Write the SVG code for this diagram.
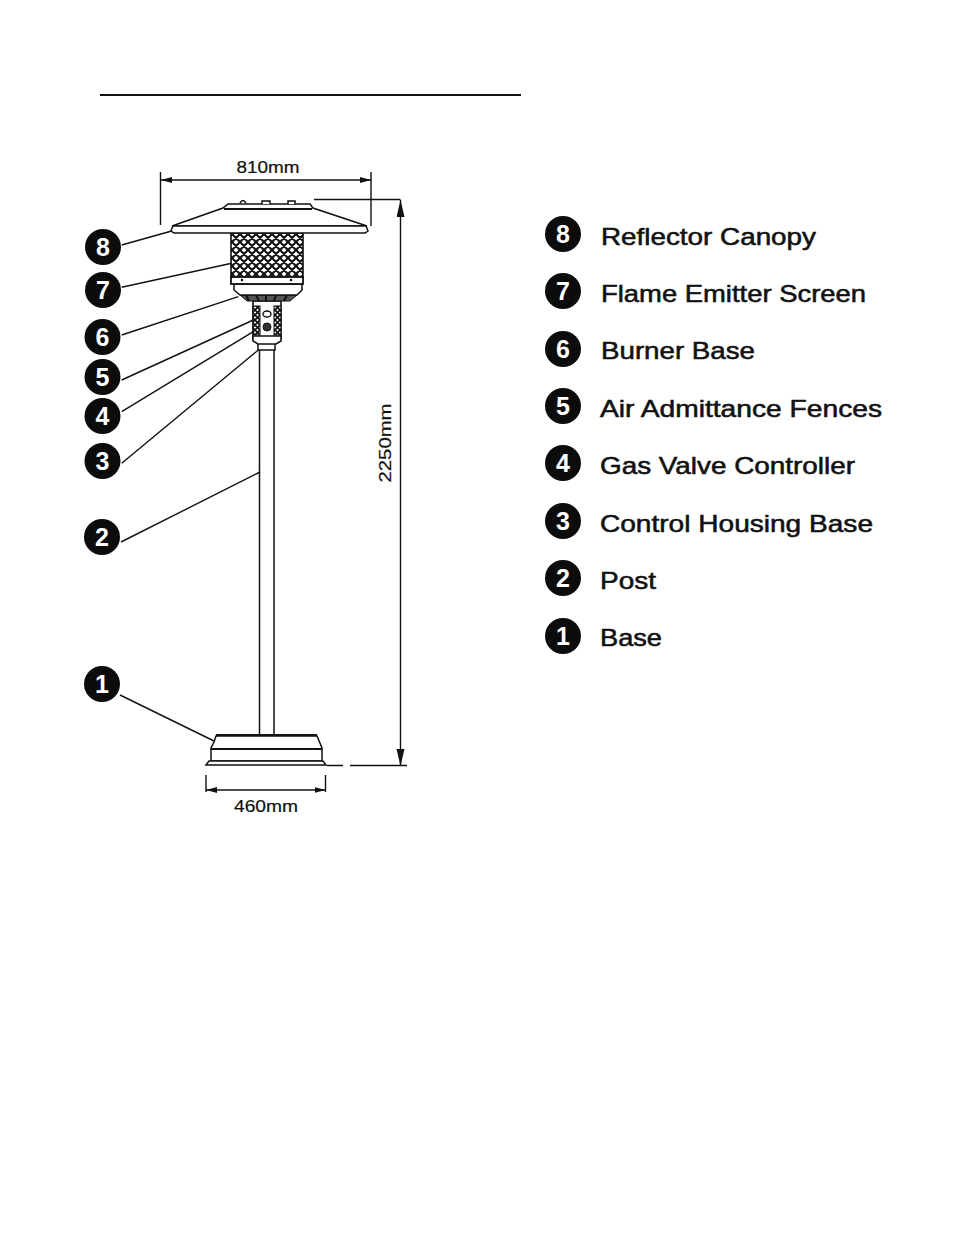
<svg xmlns="http://www.w3.org/2000/svg" width="954" height="1235" viewBox="0 0 954 1235">
<style>
text{font-family:"Liberation Sans",Arial,sans-serif;fill:#111}
.num{font-weight:bold;font-size:25px;fill:#fff;text-anchor:middle}
.lab{font-size:24px;stroke:#111;stroke-width:.55}
.dim{font-size:17px;stroke:#111;stroke-width:.2}
.ln{fill:none;stroke:#111;stroke-width:1.4}
.hv{fill:none;stroke:#111;stroke-width:2}
.wf{fill:#fff;stroke:#111;stroke-width:1.5}
.bub{fill:#0c0c0c}
</style>
<defs>
<pattern id="mesh" width="8" height="8" patternUnits="userSpaceOnUse" patternTransform="translate(232 234)">
<rect width="8" height="8" fill="#fff"/>
<path d="M-1 -1L9 9M-1 7L1 9M7 -1L9 1M9 -1L-1 9M1 -1L-1 1M9 7L7 9" stroke="#111" stroke-width="2.1"/>
</pattern>
<pattern id="mesh2" width="5" height="5" patternUnits="userSpaceOnUse">
<rect width="5" height="5" fill="#fff"/>
<path d="M0 0L5 5M5 0L0 5" stroke="#111" stroke-width="1.7"/>
</pattern>
<marker id="ah" markerWidth="12" markerHeight="8" refX="11" refY="3" orient="auto-start-reverse" markerUnits="userSpaceOnUse"><path d="M0 0L11 3L0 6Z" fill="#111"/></marker>
<marker id="av" markerWidth="18" markerHeight="10" refX="17" refY="4" orient="auto-start-reverse" markerUnits="userSpaceOnUse"><path d="M0 0L17 4L0 8Z" fill="#111"/></marker>
</defs>
<rect width="954" height="1235" fill="#fff"/>
<path id="title-rule" d="M100 95H521" stroke="#111" stroke-width="2.2"/>

<g id="heater">
<path class="wf" d="M259.5 350V735M274 350V735"/>
<path class="wf" d="M216 736L317 736L322 748V761H211V748L214 742Z"/>
<path class="hv" d="M216 735H317M211 749H322"/>
<path class="wf" stroke-width="2" d="M206 765L209 761H323L326 765Z"/>
<path class="wf" d="M258 342H275V350H258Z"/>
<rect x="253" y="301" width="28" height="38" fill="#fff" stroke="#111" stroke-width="1.6"/>
<rect x="253" y="306" width="7" height="29" fill="url(#mesh2)" stroke="#111"/>
<rect x="274" y="306" width="7" height="29" fill="url(#mesh2)" stroke="#111"/>
<ellipse cx="267" cy="314" rx="4" ry="3" fill="#fff" stroke="#111" stroke-width="1.4"/>
<circle cx="267" cy="327" r="4" fill="#333" stroke="#111"/>
<path class="wf" d="M253 336H281V341L276 344H258L253 341Z"/>
<path d="M240 295H297L290 301H247Z" fill="#555" stroke="#111"/>
<path class="hv" stroke-width="1.6" d="M246 295L249 301M256 295L259 301M266 295V301M276 295L274 301M287 295L284 301"/>
<path class="wf" d="M234 284H302V290L297 295H240L234 290Z"/>
<rect x="231" y="233" width="72" height="44" fill="url(#mesh)" stroke="#111" stroke-width="1.6"/>
<rect x="231" y="277" width="72" height="7" fill="#fff" stroke="#111" stroke-width="1.8"/>
<circle cx="242" cy="280" r="1.3" fill="#111"/><circle cx="291" cy="280" r="1.3" fill="#111"/>
<path class="wf" d="M172 226L223 208L228 204H310L313 208L367 226Z"/>
<path class="wf" d="M173 226H366L368 231L365 233H174L171 231Z"/>
<path class="hv" stroke-width="1.6" d="M224 209H312"/>
<path class="wf" d="M240 203Q243 198 246 203M262 204V201H270V204M288 204V201H295V204"/>
</g>

<g id="connectors">
<path class="ln" d="M121.7 245L171.7 231M121.7 287.3L231.7 263.3M121.7 335L238.3 296.7M121.7 380L253.3 320M121.7 411.7L253.3 331.7M121.7 463.3L258.3 350M121 542L260 472M120 695L214 741"/>
</g>

<g id="dimensions">
<path class="ln" d="M160.5 172V225M371 172V226M206 775V792M325.5 775V792"/>
<path class="ln" d="M161 180H371" marker-start="url(#ah)" marker-end="url(#ah)"/>
<path class="ln" d="M206 790H325.5" marker-start="url(#ah)" marker-end="url(#ah)"/>
<path class="ln" d="M400.5 200V766" marker-start="url(#av)" marker-end="url(#av)"/>
<path class="ln" d="M314 199.5H400.5"/>
<path class="ln" d="M327 765.5H343M350 765.5H407"/>
<text class="dim" x="268" y="173" text-anchor="middle" textLength="63" lengthAdjust="spacingAndGlyphs">810mm</text>
<text class="dim" x="266" y="812" text-anchor="middle" textLength="64" lengthAdjust="spacingAndGlyphs">460mm</text>
<text class="dim" transform="translate(391 443) rotate(-90)" text-anchor="middle" textLength="79" lengthAdjust="spacingAndGlyphs">2250mm</text>
</g>

<g id="callout-8"><circle class="bub" cx="103" cy="247" r="18"/><text class="num" x="103" y="256">8</text></g>
<g id="callout-7"><circle class="bub" cx="103" cy="290" r="18"/><text class="num" x="103" y="299">7</text></g>
<g id="callout-6"><circle class="bub" cx="102.5" cy="337" r="18"/><text class="num" x="102.5" y="346">6</text></g>
<g id="callout-5"><circle class="bub" cx="102.5" cy="377" r="18"/><text class="num" x="102.5" y="386">5</text></g>
<g id="callout-4"><circle class="bub" cx="102.5" cy="416" r="18"/><text class="num" x="102.5" y="425">4</text></g>
<g id="callout-3"><circle class="bub" cx="102.5" cy="461" r="18"/><text class="num" x="102.5" y="470">3</text></g>
<g id="callout-2"><circle class="bub" cx="102" cy="537" r="18"/><text class="num" x="102" y="546">2</text></g>
<g id="callout-1"><circle class="bub" cx="102" cy="684" r="18"/><text class="num" x="102" y="693">1</text></g>

<g id="legend-8"><circle class="bub" cx="563" cy="234" r="18"/><text class="num" x="563" y="243">8</text><text class="lab" x="601" y="245" textLength="215" lengthAdjust="spacingAndGlyphs">Reflector Canopy</text></g>
<g id="legend-7"><circle class="bub" cx="563" cy="291" r="18"/><text class="num" x="563" y="300">7</text><text class="lab" x="601" y="302" textLength="265" lengthAdjust="spacingAndGlyphs">Flame Emitter Screen</text></g>
<g id="legend-6"><circle class="bub" cx="563" cy="349" r="18"/><text class="num" x="563" y="358">6</text><text class="lab" x="601" y="359" textLength="154" lengthAdjust="spacingAndGlyphs">Burner Base</text></g>
<g id="legend-5"><circle class="bub" cx="563" cy="406" r="18"/><text class="num" x="563" y="415">5</text><text class="lab" x="600" y="417" textLength="282" lengthAdjust="spacingAndGlyphs">Air Admittance Fences</text></g>
<g id="legend-4"><circle class="bub" cx="563" cy="463" r="18"/><text class="num" x="563" y="472">4</text><text class="lab" x="600" y="474" textLength="255" lengthAdjust="spacingAndGlyphs">Gas Valve Controller</text></g>
<g id="legend-3"><circle class="bub" cx="563" cy="521" r="18"/><text class="num" x="563" y="530">3</text><text class="lab" x="600" y="532" textLength="273" lengthAdjust="spacingAndGlyphs">Control Housing Base</text></g>
<g id="legend-2"><circle class="bub" cx="563" cy="578" r="18"/><text class="num" x="563" y="587">2</text><text class="lab" x="600" y="589" textLength="56" lengthAdjust="spacingAndGlyphs">Post</text></g>
<g id="legend-1"><circle class="bub" cx="563" cy="636" r="18"/><text class="num" x="563" y="645">1</text><text class="lab" x="600" y="646" textLength="62" lengthAdjust="spacingAndGlyphs">Base</text></g>
</svg>
